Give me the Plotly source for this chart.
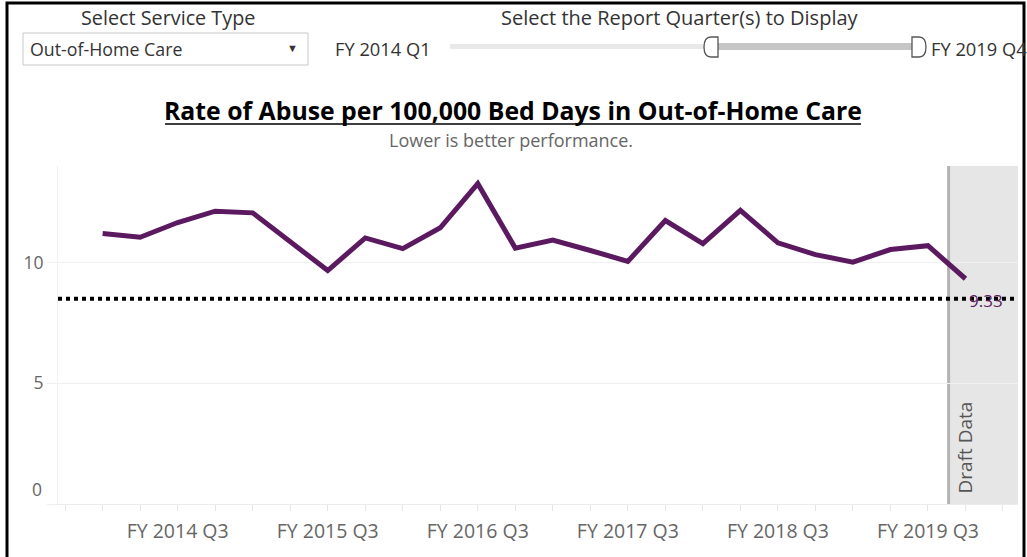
import plotly.graph_objects as go

# ---------------- data ----------------
quarters = [f"FY {y} Q{q}" for y in range(2014, 2020) for q in range(1, 5)]
rate = [11.2, 11.05, 11.66, 12.13, 12.06, 10.87, 9.67, 11.02,
        10.58, 11.44, 13.27, 10.6, 10.93, 10.5, 10.05, 11.74,
        10.78, 12.16, 10.82, 10.33, 10.02, 10.54, 10.7, 9.33]
target = 8.5
draft_quarters = ["FY 2019 Q4"]
y_ticks = [0, 5, 10]

x_idx = list(range(len(quarters)))
q3_idx = [i for i, q in enumerate(quarters) if q.endswith("Q3")]
q3_lab = [quarters[i] for i in q3_idx]
draft_i = quarters.index(draft_quarters[0])
draft_start = draft_i - 0.45

FONT = "Open Sans"
PURPLE = "#5b1a60"

# pixel -> paper helpers (plot area: x 58..1018, y 166..504)
def px(x):
    return (x - 58) / 960

def py(y):
    return (504 - y) / 338

fig = go.Figure()
fig.add_trace(go.Scatter(
    x=x_idx, y=rate, mode="lines",
    line=dict(color=PURPLE, width=5),
    hoverinfo="skip", showlegend=False))

shapes = [
    # draft data region
    dict(type="rect", xref="x", yref="paper", x0=draft_start, x1=24.4, y0=0, y1=1,
         fillcolor="#e6e6e6", line=dict(width=0), layer="below"),
    dict(type="line", xref="x", yref="paper", x0=draft_start, x1=draft_start, y0=0, y1=1,
         line=dict(color="#b4b4b4", width=3), layer="below"),
    # target line
    dict(type="line", xref="paper", yref="y", x0=0, x1=1, y0=target, y1=target,
         line=dict(color="black", width=4, dash="dot")),
    # title underline
    dict(type="line", xref="paper", yref="paper", x0=px(165), x1=px(861), y0=py(124), y1=py(124),
         line=dict(color="black", width=1.5)),
    # dropdown box
    dict(type="rect", xref="paper", yref="paper", x0=px(23), x1=px(308), y0=py(33), y1=py(65),
         fillcolor="white", line=dict(color="#c8c8c8", width=1)),
    # slider track
    dict(type="rect", xref="paper", yref="paper", x0=px(450), x1=px(712), y0=py(44), y1=py(49),
         fillcolor="#e9e9e9", line=dict(width=0)),
    dict(type="rect", xref="paper", yref="paper", x0=px(712), x1=px(918), y0=py(43), y1=py(50),
         fillcolor="#c6c6c6", line=dict(width=0)),
    # outer frame
    dict(type="rect", xref="paper", yref="paper", x0=px(7), x1=px(1024), y0=py(3), y1=py(600),
         fillcolor="rgba(0,0,0,0)", line=dict(color="black", width=3)),
]

# slider handles (half-round)
def handle(xflat, xround):
    yt, yb = 37, 57
    ym = (yt + yb) / 2
    return (f"M {px(xflat)},{py(yt)} L {px(xflat)},{py(yb)} L {px((xflat+xround)/2)},{py(yb)} "
            f"Q {px(xround)},{py(yb)} {px(xround)},{py(ym)} "
            f"Q {px(xround)},{py(yt)} {px((xflat+xround)/2)},{py(yt)} Z")

shapes.append(dict(type="path", xref="paper", yref="paper", path=handle(718, 704),
                   fillcolor="white", line=dict(color="#555", width=1.3)))
shapes.append(dict(type="path", xref="paper", yref="paper", path=handle(912, 926),
                   fillcolor="white", line=dict(color="#555", width=1.3)))

def ann(text, x, y, size, color="#333", xanchor="center", **kw):
    return dict(text=text, xref="paper", yref="paper", x=px(x), y=py(y), showarrow=False,
                xanchor=xanchor, yanchor="middle", font=dict(family=FONT, size=size, color=color), **kw)

annotations = [
    ann("<b>Rate of Abuse per 100,000 Bed Days in Out-of-Home Care</b>", 513, 110, 24.8, "black"),
    ann("Lower is better performance.", 511, 140, 18, "#666"),
    ann("Select Service Type", 168, 17, 19.8, "#333"),
    ann("Select the Report Quarter(s) to Display", 680, 17, 20, "#333"),
    ann("Out-of-Home Care", 28, 49, 17.8, "#333", xanchor="left"),
    ann("▼", 292, 47, 11, "#333"),
    ann(quarters[0], 383, 49, 18.3, "#333"),
    ann(quarters[-1], 929, 49, 18.3, "#333", xanchor="left"),
    ann("0", 44, 489, 17.5, "#666", xanchor="right"),
    dict(text="Draft Data", xref="x", yref="paper", x=draft_i, y=py(447),
         xanchor="center", yanchor="middle",
         showarrow=False, textangle=-90, font=dict(family=FONT, size=19, color="#555")),
    dict(text=f"{rate[-1]:.2f}", xref="x", yref="y", x=x_idx[-1], y=rate[-1], xanchor="left",
         xshift=2, yshift=-22, showarrow=False, font=dict(family=FONT, size=17, color=PURPLE)),
]

fig.update_layout(
    width=1027, height=557,
    margin=dict(l=58, r=9, t=166, b=53),
    paper_bgcolor="white", plot_bgcolor="white",
    shapes=shapes, annotations=annotations,
    font=dict(family=FONT),
    xaxis=dict(range=[-1.19, 24.4], tickmode="array", tickvals=q3_idx, ticktext=q3_lab,
               ticks="outside", ticklen=6, tickcolor="#e6e6e6", ticklabelstandoff=4,
               minor=dict(ticks="outside", ticklen=6, tickcolor="#e6e6e6", dtick=1, tick0=0),
               showgrid=False, zeroline=False, showline=True, linecolor="#ececec",
               tickfont=dict(family=FONT, size=19.5, color="#666"), fixedrange=True),
    yaxis=dict(range=[0, 14.0], tickmode="array", tickvals=y_ticks,
               ticktext=["" if v == 0 else str(v) for v in y_ticks],
               ticks="outside", ticklen=10, tickcolor="#f0f0f0",
               showgrid=True, gridcolor="#f0f0f0", zeroline=False,
               showline=True, linecolor="#f0f0f0",
               tickfont=dict(family=FONT, size=17.5, color="#666"), fixedrange=True),
)

fig.write_html("out.html", post_script="document.body.style.margin='0px';",
               config={"displayModeBar": False})
